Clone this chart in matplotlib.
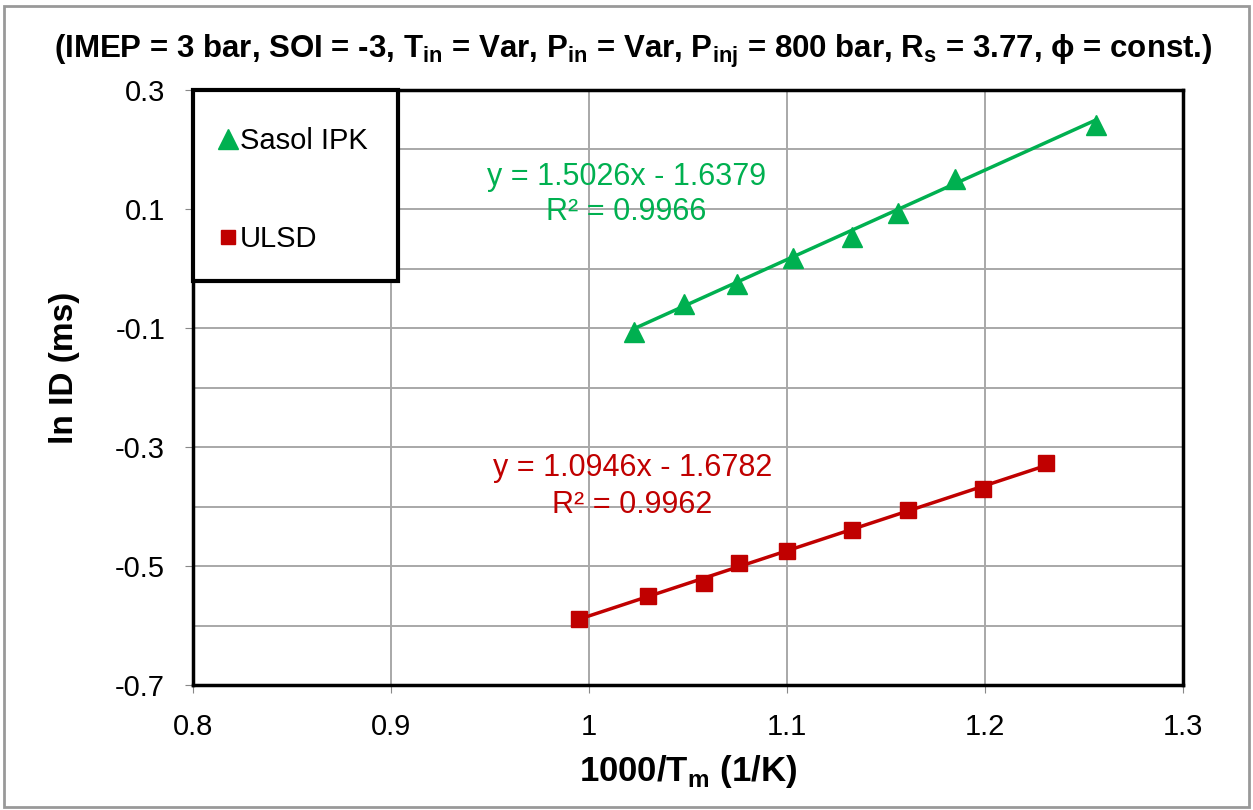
import matplotlib.pyplot as plt
from matplotlib.ticker import MultipleLocator
from matplotlib.patches import Rectangle

# data lest av bildet
ipk_x = [1.023, 1.048, 1.075, 1.103, 1.133, 1.156, 1.185, 1.256]
ipk_y = [-0.106, -0.059, -0.026, 0.018, 0.053, 0.093, 0.150, 0.241]
ulsd_x = [0.995, 1.030, 1.058, 1.076, 1.100, 1.133, 1.161, 1.199, 1.231]
ulsd_y = [-0.589, -0.550, -0.528, -0.495, -0.474, -0.440, -0.406, -0.371, -0.326]

# trendlinjer (fra likningene i figuren)
ipk_fit = [1.5026, -1.6379]
ulsd_fit = [1.0946, -1.6782]
ipk_r2 = "0.9966"
ulsd_r2 = "0.9962"

x_ticks = [0.8, 0.9, 1.0, 1.1, 1.2, 1.3]
x_labels = ["0.8", "0.9", "1", "1.1", "1.2", "1.3"]
y_ticks = [-0.7, -0.5, -0.3, -0.1, 0.1, 0.3]
y_labels = ["-0.7", "-0.5", "-0.3", "-0.1", "0.1", "0.3"]

gronn = "#00B050"
rod = "#C00000"

plt.rcParams["font.family"] = ["Liberation Sans", "DejaVu Sans"]

fig = plt.figure(figsize=(12.53, 8.10), dpi=100)
ax = fig.add_axes([0.154, 0.154, 0.790, 0.735])

# trendlinjer
x0, x1 = ipk_x[0], ipk_x[-1]
ax.plot([x0, x1], [ipk_fit[0] * x0 + ipk_fit[1], ipk_fit[0] * x1 + ipk_fit[1]], color=gronn, lw=2.5, zorder=3)
x0, x1 = ulsd_x[0], ulsd_x[-1]
ax.plot([x0, x1], [ulsd_fit[0] * x0 + ulsd_fit[1], ulsd_fit[0] * x1 + ulsd_fit[1]], color=rod, lw=2.5, zorder=3)

# punktene
ax.plot(ipk_x, ipk_y, "^", color=gronn, ms=15, mec=gronn, zorder=4)
ax.plot(ulsd_x, ulsd_y, "s", color=rod, ms=11, mec=rod, zorder=4)

ax.set_xlim(0.8, 1.3)
ax.set_ylim(-0.7, 0.3)
ax.set_xticks(x_ticks)
ax.set_xticklabels(x_labels)
ax.set_yticks(y_ticks)
ax.set_yticklabels(y_labels)
ax.yaxis.set_minor_locator(MultipleLocator(0.1))
ax.grid(True, which="both", color="#a8a8a8", lw=1.4, zorder=0)
ax.tick_params(axis="both", which="major", labelsize=21, length=6, color="#888888")
ax.tick_params(axis="x", which="major", pad=14)
ax.tick_params(axis="y", which="major", pad=14)
ax.tick_params(axis="y", which="minor", length=0)
for s in ax.spines.values():
    s.set_linewidth(2.5)
    s.set_color("black")

ax.set_xlabel("1000/T$_\\mathregular{m}$ (1/K)", fontsize=25, fontweight="bold")
ax.set_ylabel("ln ID (ms)", fontsize=24, fontweight="bold")
ax.xaxis.set_label_coords(0.5, -0.114)
ax.yaxis.set_label_coords(-0.114, 0.533)

fig.text(0.505, 0.928, "(IMEP = 3 bar, SOI = -3, T$_\\mathregular{in}$ = Var, P$_\\mathregular{in}$ = Var, "
         "P$_\\mathregular{inj}$ = 800 bar, R$_\\mathregular{s}$ = 3.77, \u03d5 = const.)",
         ha="center", va="baseline", fontsize=22.5, fontweight="bold")

# likninger
ax.text(1.019, 0.140, "y = %.4fx - %.4f" % (ipk_fit[0], -ipk_fit[1]), color=gronn, fontsize=22, ha="center", va="baseline")
ax.text(1.019, 0.082, "R\u00b2 = " + ipk_r2, color=gronn, fontsize=22, ha="center", va="baseline")
ax.text(1.022, -0.349, "y = %.4fx - %.4f" % (ulsd_fit[0], -ulsd_fit[1]), color=rod, fontsize=22, ha="center", va="baseline")
ax.text(1.022, -0.411, "R\u00b2 = " + ulsd_r2, color=rod, fontsize=22, ha="center", va="baseline")

# forklaring: ramme tegnes for seg
ax.add_patch(Rectangle((0.0, 0.679), 0.207, 0.321, transform=ax.transAxes, facecolor="white",
                       edgecolor="black", lw=3, zorder=5, clip_on=False))
leg = ax.legend([plt.Line2D([], [], ls="", marker="^", color=gronn, ms=14),
                 plt.Line2D([], [], ls="", marker="s", color=rod, ms=10)],
                ["Sasol IPK", "ULSD"], loc="upper left", bbox_to_anchor=(0.025, 0.938),
                fontsize=21, frameon=False, labelspacing=2.4, handlelength=0.7,
                handletextpad=0.05, borderpad=0, borderaxespad=0)
leg.set_zorder(6)

# ramme rundt figuren
fig.patches.append(Rectangle((0.003, 0.004), 0.994, 0.988, transform=fig.transFigure,
                             fill=False, edgecolor="#999999", lw=2))

fig.savefig("out.png", dpi=100)
